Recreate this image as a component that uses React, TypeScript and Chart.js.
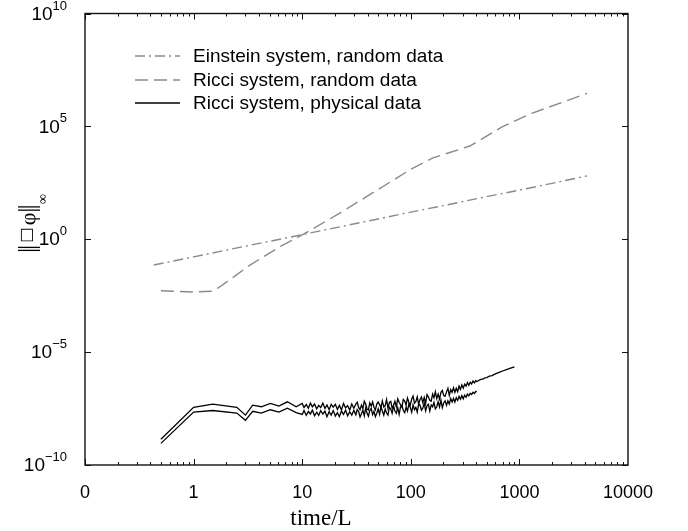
import React, { useEffect, useRef } from "react";
import { Chart, registerables } from "chart.js";

Chart.register(...registerables);

// ---- axis ticks ----
const xTickValues = [0.1, 1, 10, 100, 1000, 10000];
const xTickLabels = ["0", "1", "10", "100", "1000", "10000"];
const yTickValues = [1e-10, 1e-5, 1, 1e5, 1e10];
const yTickBases = ["10", "10", "10", "10", "10"];
const yTickExponents = ["\u221210", "\u22125", "0", "5", "10"];

// ---- legend labels ----
const seriesLabels = [
  "Einstein system, random data",
  "Ricci system, random data",
  "Ricci system, physical data",
];

// ---- Einstein system, random data ----
const einsteinTimes = [0.43, 1, 2, 5, 10, 20, 50, 100, 200, 500, 1000, 2000, 4200];
const einsteinValues = [0.072, 0.165, 0.33, 0.81, 1.6, 3.2, 7.9, 16, 31, 77, 150, 300, 640];

// ---- Ricci system, random data ----
const ricciRandomTimes = [0.5, 1, 1.5, 1.75, 2.5, 3.3, 6.25, 10, 22, 50, 100, 160, 350, 430, 700, 1300, 4200];
const ricciRandomValues = [0.0052, 0.0046, 0.005, 0.0079, 0.027, 0.072, 0.47, 1.55, 14, 160, 1260, 4000, 13500, 24000, 98000, 380000, 2900000];

// ---- Ricci system, physical data: shared sample times ----
const physTimesEarly = [0.5, 1.0, 1.5, 2.5, 3.0, 3.5, 4.2, 5.1, 6.1, 7.3, 8.8];
const physTimesMid = [
  10, 10.4, 10.9, 11.4, 11.9, 12.4, 13, 13.6, 14.2, 14.8, 15.5, 16.2, 16.9, 17.7, 18.5, 19.3,
  20.2, 21.1, 22, 23, 24, 25.1, 26.2, 27.4, 28.6, 29.9,
  31.2, 32.1, 33.1, 34.1, 35.1, 36.2, 37.3, 38.4, 39.5, 40.7, 41.9, 43.2, 44.5, 45.8, 47.2, 48.6,
  50.1, 51.6, 53.1, 54.7, 56.4, 58.1, 59.8, 61.6, 63.5, 65.4, 67.3, 69.4, 71.4, 73.6, 75.8, 78.1,
  80.4, 82.8, 85.3, 87.9, 90.5, 93.2, 96, 98.9, 101.9, 104.9, 108.1, 111.3, 114.6, 118.1, 121.6,
  125.3, 129, 132.9, 136.9, 141, 145.2, 149.6, 154.1, 158.7, 163.4, 168.3, 173.4, 178.6, 183.9,
  189.5, 195.1, 201, 207, 213.2, 219.6, 226.2, 233, 240, 247.2, 254.6, 262.2, 270.1, 278.2, 286.5,
  295.1, 304, 313.1, 322.5, 332.2, 342.1, 352.4, 363, 373.9, 385.1, 396.6, 404,
];
const physTimesLateA = [420, 440, 460, 480, 500, 530, 560, 600, 650, 700, 760, 830, 900];

// ---- upper run ----
const physValuesEarlyA = [1.38e-9, 3.6e-8, 5.0e-8, 3.6e-8, 1.62e-8, 4.5e-8, 3.8e-8, 5.4e-8, 4.1e-8, 6.3e-8, 3.8e-8];
const physValuesMidA = [
  5.37e-8, 3.55e-8, 4.79e-8, 3.24e-8, 5.5e-8, 3.8e-8, 5.01e-8, 3.09e-8, 4.37e-8, 3.47e-8, 5.5e-8, 3.16e-8, 4.57e-8, 2.82e-8, 4.9e-8, 3.63e-8,
  4.9e-8, 2.88e-8, 4.37e-8, 2.75e-8, 5.25e-8, 3.39e-8, 4.27e-8, 2.75e-8, 5.01e-8, 3.24e-8,
  5.01e-8, 6.03e-8, 3.55e-8, 2.82e-8, 4.47e-8, 3.24e-8, 6.61e-8, 5.01e-8, 3.02e-8, 2.75e-8, 5.62e-8, 4.07e-8, 6.17e-8, 3.63e-8, 2.75e-8, 5.01e-8,
  6.17e-8, 4.68e-8, 3.47e-8, 6.92e-8, 3.72e-8, 4.27e-8, 7.94e-8, 3.31e-8, 5.89e-8, 6.61e-8, 3.31e-8, 4.47e-8, 6.61e-8, 3.8e-8, 8.51e-8, 6.03e-8,
  4.68e-8, 3.63e-8, 7.94e-8, 6.76e-8, 4.57e-8, 9.33e-8, 6.03e-8, 4.47e-8, 8.32e-8, 1.12e-7, 5.5e-8, 6.46e-8, 1.05e-7, 4.9e-8, 7.94e-8,
  1.02e-7, 5.75e-8, 9.77e-8, 5.37e-8, 1.32e-7, 1.05e-7, 7.41e-8, 6.76e-8, 1.38e-7, 9.55e-8, 1.74e-7, 8.71e-8, 1.38e-7, 8.32e-8,
  1.66e-7, 2.0e-7, 1.2e-7, 1.1e-7, 1.74e-7, 2.51e-7, 1.2e-7, 2.19e-7, 1.66e-7, 2.63e-7, 1.66e-7, 2.51e-7, 1.78e-7, 3.16e-7, 2.24e-7,
  3.55e-7, 2.51e-7, 3.8e-7, 3.09e-7, 4.47e-7, 3.39e-7, 4.68e-7, 3.89e-7, 5.25e-7, 4.37e-7, 5.5e-7, 4.9e-7,
];
const physValuesLateA = [5.5e-7, 6.2e-7, 6.3e-7, 7.2e-7, 7.4e-7, 8.6e-7, 9.2e-7, 1.08e-6, 1.26e-6, 1.46e-6, 1.68e-6, 1.95e-6, 2.24e-6];

// ---- lower run ----
const physValuesEarlyB = [9.1e-10, 2.2e-8, 2.6e-8, 2.0e-8, 9.5e-9, 2.4e-8, 2.0e-8, 2.8e-8, 2.2e-8, 3.3e-8, 2.1e-8];
const physValuesMidB = [
  1.74e-8, 2.57e-8, 1.58e-8, 2.34e-8, 1.82e-8, 2.69e-8, 1.51e-8, 2.19e-8, 1.58e-8, 2.57e-8, 1.82e-8, 2.45e-8, 1.38e-8, 2.29e-8, 1.62e-8, 2.57e-8,
  1.48e-8, 2.09e-8, 1.38e-8, 2.45e-8, 1.74e-8, 2.69e-8, 1.51e-8, 2.29e-8, 1.62e-8, 2.63e-8,
  1.66e-8, 2.88e-8, 2.34e-8, 1.35e-8, 1.86e-8, 2.69e-8, 1.51e-8, 3.31e-8, 2.0e-8, 1.45e-8, 2.57e-8, 3.24e-8, 1.7e-8, 2.4e-8, 1.38e-8, 1.95e-8,
  3.09e-8, 1.74e-8, 3.8e-8, 2.45e-8, 1.62e-8, 3.02e-8, 2.0e-8, 1.62e-8, 3.63e-8, 2.95e-8, 1.95e-8, 4.17e-8, 2.45e-8, 1.95e-8, 3.47e-8, 1.74e-8,
  3.72e-8, 4.37e-8, 2.57e-8, 2.09e-8, 3.63e-8, 2.45e-8, 5.01e-8, 3.55e-8, 2.19e-8, 4.57e-8, 2.82e-8, 3.55e-8, 2.19e-8, 5.01e-8, 4.47e-8,
  2.69e-8, 3.31e-8, 5.5e-8, 2.51e-8, 4.27e-8, 4.9e-8, 2.45e-8, 4.57e-8, 3.8e-8, 5.89e-8, 3.09e-8, 3.8e-8, 6.31e-8, 3.72e-8,
  7.41e-8, 3.47e-8, 5.75e-8, 6.92e-8, 4.37e-8, 6.92e-8, 5.01e-8, 8.71e-8, 6.17e-8, 8.91e-8, 6.17e-8, 9.55e-8, 7.24e-8, 1.1e-7, 8.32e-8,
  1.17e-7, 8.51e-8, 1.23e-7, 1.0e-7, 1.38e-7, 1.15e-7, 1.51e-7, 1.32e-7, 1.66e-7, 1.48e-7, 1.82e-7, 1.7e-7,
];

const GRAY = "#8a8a8a";
const SANS = "'Liberation Sans', Arial, Helvetica, sans-serif";
const SERIF = "'Liberation Serif', 'Times New Roman', serif";

const zip = (xs: number[], ys: number[]) => xs.map((x, i) => ({ x, y: ys[i] }));

const framePlugin = {
  id: "frameTicks",
  afterDraw(chart: any) {
    const { ctx, chartArea: a, scales } = chart;
    const xs = scales.x;
    const ys = scales.y;
    ctx.save();
    ctx.strokeStyle = "#111";
    ctx.lineWidth = 1.4;
    ctx.strokeRect(a.left, a.top, a.right - a.left, a.bottom - a.top);
    ctx.lineWidth = 1;
    ctx.beginPath();
    for (let d = -1; d <= 3; d++) {
      for (let k = 1; k <= 9; k++) {
        const v = k * Math.pow(10, d);
        const px = Math.round(xs.getPixelForValue(v)) + 0.5;
        const len = k === 1 ? 6 : 3;
        ctx.moveTo(px, a.bottom);
        ctx.lineTo(px, a.bottom - len);
        ctx.moveTo(px, a.top);
        ctx.lineTo(px, a.top + len);
      }
    }
    yTickValues.forEach((v) => {
      const py = Math.round(ys.getPixelForValue(v)) + 0.5;
      ctx.moveTo(a.left, py);
      ctx.lineTo(a.left + 6, py);
      ctx.moveTo(a.right, py);
      ctx.lineTo(a.right - 6, py);
    });
    ctx.stroke();

    // y tick labels with superscript exponents
    ctx.fillStyle = "#000";
    yTickValues.forEach((v, i) => {
      const py = ys.getPixelForValue(v);
      ctx.font = `13px ${SANS}`;
      const ew = ctx.measureText(yTickExponents[i]).width;
      ctx.font = `19px ${SANS}`;
      const bw = ctx.measureText(yTickBases[i]).width;
      const right = a.left - 18;
      ctx.textAlign = "left";
      ctx.textBaseline = "middle";
      ctx.fillText(yTickBases[i], right - ew - bw, py + 1);
      ctx.font = `13px ${SANS}`;
      ctx.textBaseline = "alphabetic";
      ctx.fillText(yTickExponents[i], right - ew, py - 4);
    });

    // x axis title
    ctx.font = `23px ${SERIF}`;
    ctx.textAlign = "center";
    ctx.textBaseline = "middle";
    ctx.fillText("time/L", a.left + 0.4346 * (a.right - a.left), 519);

    // y axis title: ||□φ||∞ rotated
    ctx.save();
    ctx.translate(34.5, 224);
    ctx.rotate(-Math.PI / 2);
    ctx.textAlign = "center";
    ctx.textBaseline = "alphabetic";
    ctx.font = `26px ${SERIF}`;
    ctx.fillText("|", -26.5, 0);
    ctx.fillText("|", -23.3, 0);
    ctx.font = `16px 'DejaVu Sans', sans-serif`;
    ctx.textBaseline = "middle";
    ctx.fillText("\u25a1", -11, -7.5);
    ctx.textBaseline = "alphabetic";
    ctx.font = `22px ${SERIF}`;
    ctx.fillText("\u03c6", 5, 0);
    ctx.font = `26px ${SERIF}`;
    ctx.fillText("|", 13.8, 0);
    ctx.fillText("|", 17, 0);
    ctx.font = `14px ${SERIF}`;
    ctx.fillText("\u221e", 25, 12);
    ctx.restore();

    // legend
    const rows = [56, 80, 103];
    chart.data.datasets.forEach((ds: any, i: number) => {
      if (i >= seriesLabels.length) return;
      ctx.save();
      ctx.strokeStyle = ds.borderColor;
      ctx.lineWidth = ds.borderWidth;
      ctx.setLineDash(ds.borderDash || []);
      ctx.beginPath();
      ctx.moveTo(135, rows[i]);
      ctx.lineTo(180, rows[i]);
      ctx.stroke();
      ctx.restore();
      ctx.font = `19px ${SANS}`;
      ctx.fillStyle = "#000";
      ctx.textAlign = "left";
      ctx.textBaseline = "middle";
      ctx.fillText(seriesLabels[i], 193, rows[i] + 1);
    });
    ctx.restore();
  },
};

export default function App() {
  const canvasRef = useRef<HTMLCanvasElement | null>(null);

  useEffect(() => {
    if (!canvasRef.current) return;
    const upper = zip(
      [...physTimesEarly, ...physTimesMid, ...physTimesLateA],
      [...physValuesEarlyA, ...physValuesMidA, ...physValuesLateA]
    );
    const lower = zip([...physTimesEarly, ...physTimesMid], [...physValuesEarlyB, ...physValuesMidB]);
    const chart = new Chart(canvasRef.current, {
      type: "line",
      data: {
        datasets: [
          {
            label: seriesLabels[0],
            data: zip(einsteinTimes, einsteinValues),
            borderColor: GRAY,
            borderWidth: 1.4,
            borderDash: [10, 4, 2, 4],
            pointRadius: 0,
            tension: 0,
            fill: false,
          },
          {
            label: seriesLabels[1],
            data: zip(ricciRandomTimes, ricciRandomValues),
            borderColor: GRAY,
            borderWidth: 1.4,
            borderDash: [13, 6],
            pointRadius: 0,
            tension: 0,
            fill: false,
          },
          {
            label: seriesLabels[2],
            data: upper,
            borderColor: "#000",
            borderWidth: 1.3,
            pointRadius: 0,
            tension: 0,
            fill: false,
          },
          {
            label: seriesLabels[2] + " (2)",
            data: lower,
            borderColor: "#000",
            borderWidth: 1.3,
            pointRadius: 0,
            tension: 0,
            fill: false,
          },
        ],
      },
      options: {
        responsive: false,
        animation: false,
        devicePixelRatio: 1,
        parsing: false as any,
        layout: { padding: { left: 0, right: 60, top: 13.5, bottom: 0 } },
        plugins: { legend: { display: false }, tooltip: { enabled: false } },
        scales: {
          x: {
            type: "logarithmic",
            min: 0.1,
            max: 10000,
            grid: { display: false, drawTicks: false },
            border: { display: false },
            afterBuildTicks: (s: any) => {
              s.ticks = xTickValues.map((v) => ({ value: v }));
            },
            afterFit: (s: any) => {
              s.height = 66;
            },
            ticks: {
              autoSkip: false,
              maxRotation: 0,
              padding: 17,
              color: "#000",
              font: { family: SANS, size: 18 },
              callback: (v: any) => {
                const i = xTickValues.indexOf(Number(v));
                return i >= 0 ? xTickLabels[i] : "";
              },
            },
          },
          y: {
            type: "logarithmic",
            min: 1e-10,
            max: 1e10,
            grid: { display: false, drawTicks: false },
            border: { display: false },
            afterBuildTicks: (s: any) => {
              s.ticks = yTickValues.map((v) => ({ value: v }));
            },
            afterFit: (s: any) => {
              s.width = 85;
            },
            ticks: { display: false },
          },
        },
      },
      plugins: [framePlugin],
    });
    return () => chart.destroy();
  }, []);

  return (
    <div style={{ position: "fixed", left: 0, top: 0, width: 688, height: 531, background: "#fff" }}>
      <canvas ref={canvasRef} width={688} height={531} style={{ display: "block" }} />
    </div>
  );
}
